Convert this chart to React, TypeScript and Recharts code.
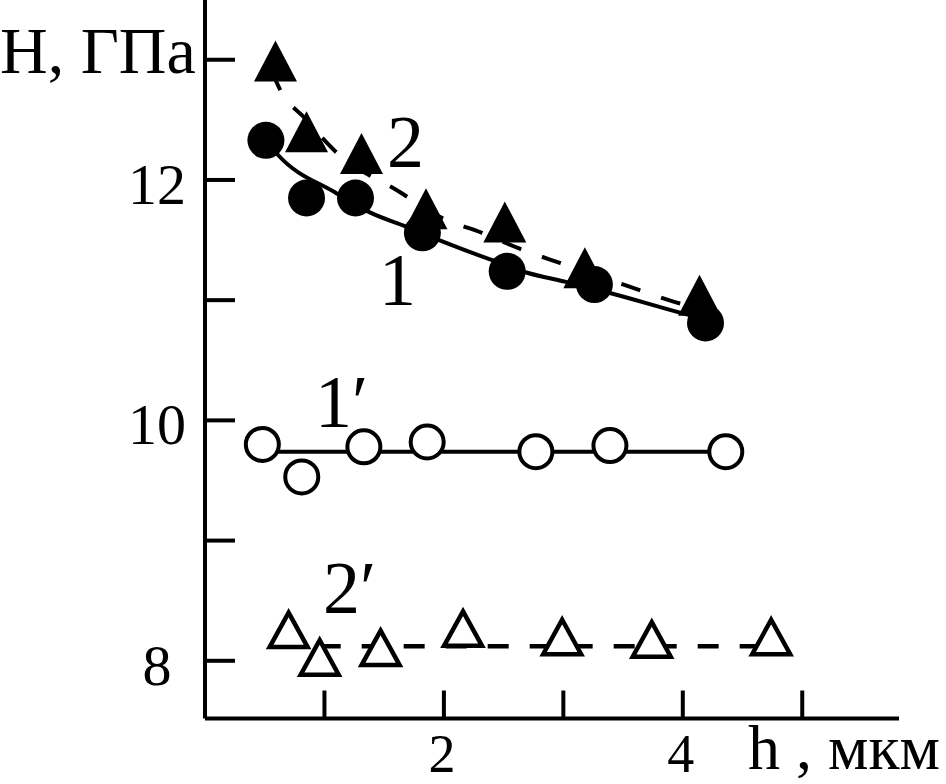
import { ComposedChart, Line, Scatter, XAxis, YAxis } from 'recharts';

const SERIF = "'Liberation Serif', 'Times New Roman', serif";

// filled circles (1)
const h1 = [0.51, 0.85, 1.26, 1.82, 2.53, 3.26, 4.19];
const H1 = [12.33, 11.85, 11.85, 11.56, 11.24, 11.13, 10.81];
// filled triangles (2)
const h2 = [0.59, 0.85, 1.31, 1.85, 2.51, 3.18, 4.14];
const H2 = [12.99, 12.4, 12.22, 11.76, 11.65, 11.27, 11.04];
// open circles (1')
const h1p = [0.48, 0.81, 1.33, 1.86, 2.77, 3.39, 4.36];
const H1p = [9.8, 9.53, 9.78, 9.82, 9.74, 9.79, 9.74];
// open triangles (2')
const h2p = [0.7, 0.96, 1.47, 2.16, 2.99, 3.74, 4.74];
const H2p = [8.26, 8.03, 8.11, 8.27, 8.2, 8.18, 8.2];

// fitted curves
const fit1X = [0.51, 0.61, 1.1, 1.38, 1.69, 1.96, 2.41, 2.69, 3.03, 3.39, 4.0, 4.19];
const fit1Y = [12.33, 12.21, 11.89, 11.73, 11.61, 11.5, 11.33, 11.23, 11.15, 11.06, 10.89, 10.84];
const fit2X = [0.56, 0.64, 0.83, 1.1, 1.63, 1.99, 2.32, 2.63, 2.97, 3.62, 3.95, 4.21];
const fit2Y = [12.9, 12.73, 12.52, 12.23, 11.9, 11.68, 11.56, 11.43, 11.31, 11.09, 10.98, 10.92];
const fit1pX = [0.48, 4.36];
const fit1pY = [9.74, 9.74];
const fit2pX = [0.96, 4.74];
const fit2pY = [8.12, 8.12];

const yTicks = [8, 9, 10, 11, 12, 13];
const yLabels = [8, 10, 12];
const xTicks = [1, 2, 3, 4, 5];
const xLabels = [2, 4];

const pts = (xs: number[], ys: number[]) => xs.map((x, i) => ({ x, y: ys[i] }));

function YTick({ x, y, payload }: any) {
  const v = payload.value;
  return (
    <g>
      <line x1={x} x2={x + 30} y1={y} y2={y} stroke="#000" strokeWidth={4} />
      {yLabels.includes(v) && (
        <text x={x - 48} y={y + 24} textAnchor="middle" fontSize={58} fontFamily={SERIF} fill="#000">
          {v}
        </text>
      )}
    </g>
  );
}

function XTick({ x, y, payload }: any) {
  const v = payload.value;
  return (
    <g>
      <line x1={x} x2={x} y1={y} y2={y - 28} stroke="#000" strokeWidth={4} />
      {xLabels.includes(v) && (
        <text x={x - 2} y={y + 53} textAnchor="middle" fontSize={54} fontFamily={SERIF} fill="#000">
          {v}
        </text>
      )}
    </g>
  );
}

const FilledCircle = (p: any) => <circle cx={p.cx} cy={p.cy} r={18.5} fill="#000" />;
const OpenCircle = (p: any) => <circle cx={p.cx} cy={p.cy} r={16.5} fill="#fff" stroke="#000" strokeWidth={4} />;
const FilledTriangle = (p: any) => (
  <polygon
    points={`${p.cx},${p.cy - 20.5} ${p.cx + 21.5},${p.cy + 20.5} ${p.cx - 21.5},${p.cy + 20.5}`}
    fill="#000"
  />
);
const OpenTriangle = (p: any) => (
  <polygon
    points={`${p.cx},${p.cy - 17} ${p.cx + 19},${p.cy + 17.5} ${p.cx - 19},${p.cy + 17.5}`}
    fill="#fff"
    stroke="#000"
    strokeWidth={4.5}
  />
);

export default function App() {
  return (
    <div style={{ position: 'absolute', left: 0, top: 0, width: 946, height: 784, background: '#fff' }}>
      <ComposedChart width={946} height={784} margin={{ top: 0, right: 47, bottom: 5.5, left: 105 }}>
        <XAxis
          type="number"
          dataKey="x"
          domain={[0, 5.81]}
          ticks={xTicks}
          interval={0}
          allowDataOverflow
          height={60}
          tickSize={0}
          tickMargin={0}
          tickLine={false}
          axisLine={{ stroke: '#000', strokeWidth: 4 }}
          tick={<XTick />}
        />
        <YAxis
          type="number"
          dataKey="y"
          domain={[7.52, 13.497]}
          ticks={yTicks}
          interval={0}
          allowDataOverflow
          width={100}
          tickSize={0}
          tickMargin={0}
          tickLine={false}
          axisLine={{ stroke: '#000', strokeWidth: 4 }}
          tick={<YTick />}
        />
        <Line data={pts(fit1X, fit1Y)} dataKey="y" type="monotone" stroke="#000" strokeWidth={4} dot={false} isAnimationActive={false} />
        <Line data={pts(fit2X, fit2Y)} dataKey="y" type="monotone" stroke="#000" strokeWidth={4} strokeDasharray="20 22" dot={false} isAnimationActive={false} />
        <Line data={pts(fit1pX, fit1pY)} dataKey="y" type="linear" stroke="#000" strokeWidth={4} dot={false} isAnimationActive={false} />
        <Line data={pts(fit2pX, fit2pY)} dataKey="y" type="linear" stroke="#000" strokeWidth={4.5} strokeDasharray="21 21" dot={false} isAnimationActive={false} />
        <Scatter data={pts(h2, H2)} shape={FilledTriangle} isAnimationActive={false} />
        <Scatter data={pts(h1, H1)} shape={FilledCircle} isAnimationActive={false} />
        <Scatter data={pts(h1p, H1p)} shape={OpenCircle} isAnimationActive={false} />
        <Scatter data={pts(h2p, H2p)} shape={OpenTriangle} isAnimationActive={false} />
      </ComposedChart>
      <svg width={946} height={784} style={{ position: 'absolute', left: 0, top: 0, pointerEvents: 'none' }}>
        <g fontFamily={SERIF} fill="#000">
          <text x={0} y={73} fontSize={66}>H, ГПа</text>
          <text x={748} y={769} fontSize={64}>h , мкм</text>
          <text x={387} y={167} fontSize={74}>2</text>
          <text x={379} y={305} fontSize={74}>1</text>
          <text x={315} y={427} fontSize={74}>1′</text>
          <text x={323} y={613} fontSize={74}>2′</text>
        </g>
      </svg>
    </div>
  );
}
